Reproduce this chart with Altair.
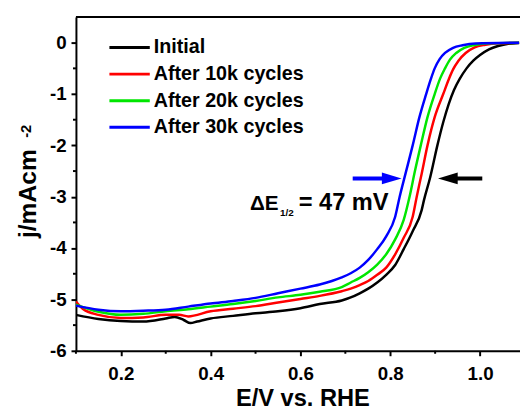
import altair as alt
import pandas as pd

FONT = "Liberation Sans"

series_names = ["Initial", "After 10k cycles", "After 20k cycles", "After 30k cycles"]
series_colors = ["#000000", "#ff0000", "#00e600", "#0000ff"]

x_initial = [0.10, 0.15, 0.20, 0.25, 0.30, 0.32, 0.34, 0.355, 0.37, 0.40, 0.45, 0.50, 0.55, 0.60, 0.643,
             0.692, 0.712, 0.732, 0.751, 0.771, 0.791, 0.811, 0.830, 0.850, 0.870, 0.875, 0.889, 0.905,
             0.918, 0.930, 0.942, 0.955, 0.97, 0.985, 1.0, 1.02, 1.04, 1.06, 1.087]
y_initial = [-5.30, -5.38, -5.42, -5.43, -5.37, -5.34, -5.40, -5.46, -5.43, -5.37, -5.32, -5.27, -5.23, -5.17, -5.09,
             -5.02, -4.96, -4.88, -4.79, -4.67, -4.52, -4.33, -4.02, -3.67, -3.26, -3.07, -2.62, -2.0,
             -1.55, -1.2, -0.92, -0.7, -0.5, -0.35, -0.24, -0.13, -0.065, -0.025, -0.005]

x_10k = [0.10, 0.115, 0.15, 0.20, 0.25, 0.30, 0.33, 0.35, 0.40, 0.45, 0.50, 0.55, 0.60, 0.643, 0.692,
         0.712, 0.732, 0.751, 0.771, 0.791, 0.811, 0.830, 0.850, 0.859, 0.870, 0.883, 0.899, 0.918,
         0.930, 0.940, 0.952, 0.968, 0.988, 1.012, 1.04, 1.087]
y_10k = [-5.04, -5.18, -5.30, -5.36, -5.35, -5.30, -5.30, -5.33, -5.23, -5.18, -5.13, -5.06, -4.99, -4.93, -4.84,
         -4.79, -4.72, -4.64, -4.52, -4.38, -4.12, -3.80, -3.39, -3.0, -2.55, -2.0, -1.45, -1.0,
         -0.72, -0.52, -0.35, -0.2, -0.09, -0.04, -0.012, -0.003]

x_20k = [0.10, 0.15, 0.20, 0.25, 0.30, 0.35, 0.40, 0.45, 0.50, 0.55, 0.60, 0.643, 0.692, 0.712, 0.732,
         0.751, 0.771, 0.791, 0.811, 0.830, 0.843, 0.855, 0.868, 0.883, 0.899, 0.911, 0.922, 0.933,
         0.947, 0.965, 0.988, 1.02, 1.087]
y_20k = [-5.10, -5.24, -5.30, -5.28, -5.23, -5.19, -5.14, -5.09, -5.03, -4.96, -4.91, -4.85, -4.76, -4.67, -4.58,
         -4.47, -4.32, -4.12, -3.83, -3.45, -3.0, -2.5, -2.0, -1.45, -1.0, -0.7, -0.5, -0.33,
         -0.2, -0.1, -0.045, -0.012, -0.002]

x_30k = [0.10, 0.15, 0.20, 0.25, 0.30, 0.35, 0.40, 0.45, 0.50, 0.55, 0.60, 0.643, 0.692, 0.712, 0.732,
         0.751, 0.771, 0.791, 0.811, 0.821, 0.834, 0.850, 0.865, 0.880, 0.890, 0.899, 0.910, 0.922,
         0.94, 0.961, 0.99, 1.087]
y_30k = [-5.12, -5.20, -5.23, -5.22, -5.20, -5.14, -5.08, -5.03, -4.97, -4.88, -4.79, -4.71, -4.57, -4.49, -4.38,
         -4.23, -4.02, -3.77, -3.39, -3.0, -2.55, -2.0, -1.45, -1.0, -0.72, -0.5, -0.32, -0.2,
         -0.1, -0.05, -0.015, 0.0]

x_major = [0.2, 0.4, 0.6, 0.8, 1.0]
x_minor = [0.1, 0.3, 0.5, 0.7, 0.9]
y_major = [-6, -5, -4, -3, -2, -1, 0]
y_minor = [-5.5, -4.5, -3.5, -2.5, -1.5, -0.5]

x_title = "E/V vs. RHE"
y_title = "j/mAcm"
y_title_sup = "-2"
delta_parts = ["ΔE", "1/2", "= 47 mV"]

W, H = 451, 339

frames = []
for name, xs, ys in zip(series_names, [x_initial, x_10k, x_20k, x_30k], [y_initial, y_10k, y_20k, y_30k]):
    frames.append(pd.DataFrame({"E": xs, "j": ys, "series": name}))
df = pd.concat(frames, ignore_index=True)

x_scale = alt.Scale(domain=[0.1, 1.089], nice=False, zero=False)
y_scale = alt.Scale(domain=[-6, 0.5], nice=False, zero=False)

axis_common = dict(
    domainColor="black", domainWidth=2, tickColor="black", tickWidth=2, tickSize=5,
    labelFont=FONT, labelFontSize=19, labelFontWeight="bold", labelColor="black",
    grid=False, labelOverlap=False,
)
x_axis = alt.Axis(values=x_major, labelExpr="format(datum.value, '.1f')", labelPadding=9,
                  title=x_title, titleFont=FONT, titleFontSize=24, titleFontWeight="bold",
                  titleColor="black", titleX=230, titleY=56, titleBaseline="alphabetic",
                  titleAlign="center", **axis_common)
y_axis = alt.Axis(values=y_major, labelExpr="'' + datum.value", labelPadding=5, title="",
                  **axis_common)


def X(field):
    return alt.X(field, scale=x_scale, axis=x_axis)


def Y(field):
    return alt.Y(field, scale=y_scale, axis=y_axis)


lines = alt.Chart(df).mark_line(strokeWidth=2.5, interpolate="monotone", clip=True).encode(
    x=X("E:Q"),
    y=Y("j:Q"),
    color=alt.Color("series:N", scale=alt.Scale(domain=series_names, range=series_colors), legend=None),
)

minor_x = alt.Chart(pd.DataFrame({"E": x_minor})).mark_rule(color="black", strokeWidth=2).encode(
    x=X("E:Q"), y=alt.value(H), y2=alt.value(H + 3))
minor_y = alt.Chart(pd.DataFrame({"j": y_minor})).mark_rule(color="black", strokeWidth=2).encode(
    y=Y("j:Q"), x=alt.value(-3), x2=alt.value(0))

top_border = alt.Chart(pd.DataFrame({"a": [0]})).mark_rule(color="black", strokeWidth=2).encode(
    x=alt.value(0), x2=alt.value(W), y=alt.value(0))

# manual legend (pixel layout inside the plot area)
legend_layers = []
for i, (name, col) in enumerate(zip(series_names, series_colors)):
    ly = 31 + 27 * i
    ldf = pd.DataFrame({"t": [name]})
    legend_layers.append(alt.Chart(ldf).mark_rule(strokeWidth=3, color=col).encode(
        x=alt.value(34), x2=alt.value(75), y=alt.value(ly)))
    legend_layers.append(alt.Chart(ldf).mark_text(
        font=FONT, fontWeight="bold", fontSize=20, color="black", align="left",
        baseline="middle").encode(x=alt.value(79), y=alt.value(ly), text="t:N"))


def txt(xv, yv, t, size):
    return alt.Chart(pd.DataFrame({"E": [xv], "j": [yv], "t": [t]})).mark_text(
        font=FONT, fontWeight="bold", fontSize=size, color="black", align="left",
        baseline="alphabetic").encode(x=X("E:Q"), y=Y("j:Q"), text="t:N")


ann_delta = txt(0.4875, -3.25, delta_parts[0], 21)
ann_sub = txt(0.5545, -3.378, delta_parts[1], 10)
ann_rest = txt(0.5960, -3.25, delta_parts[2], 24)

arrow_y = -2.643
shafts = alt.Chart(pd.DataFrame({"E": [0.7164, 0.9283], "E2": [0.8033, 1.005], "j": [arrow_y, arrow_y],
                                 "c": ["#0000ff", "#000000"]})).mark_rule(strokeWidth=4).encode(
    x=X("E:Q"), x2="E2:Q", y=Y("j:Q"), color=alt.Color("c:N", scale=None))
head_r = alt.Chart(pd.DataFrame({"E": [0.8033], "j": [arrow_y]})).mark_point(
    shape="M-1,-0.6L1,0L-1,0.6Z", filled=True, size=400, opacity=1, color="#0000ff").encode(
    x=X("E:Q"), y=Y("j:Q"))
head_l = alt.Chart(pd.DataFrame({"E": [0.9283], "j": [arrow_y]})).mark_point(
    shape="M1,-0.6L-1,0L1,0.6Z", filled=True, size=400, opacity=1, color="#000000").encode(
    x=X("E:Q"), y=Y("j:Q"))

ytitle = alt.Chart(pd.DataFrame({"t": [y_title]})).mark_text(
    font=FONT, fontWeight="bold", fontSize=25, color="black", angle=270, align="center",
    baseline="alphabetic").encode(x=alt.value(-40.6), y=alt.value(179.4), text="t:N")
ytitle_sup = alt.Chart(pd.DataFrame({"t": [y_title_sup]})).mark_text(
    font=FONT, fontWeight="bold", fontSize=15, color="black", angle=270, align="center",
    baseline="alphabetic").encode(x=alt.value(-45.6), y=alt.value(116), text="t:N")

chart = alt.layer(
    lines, minor_x, minor_y, top_border, ann_delta, ann_sub, ann_rest, shafts, head_r, head_l,
    ytitle, ytitle_sup, *legend_layers
).properties(
    width=W, height=H,
    padding={"left": 69, "top": 6, "right": 0, "bottom": 59},
    autosize=alt.AutoSizeParams(type="none"),
    background="white",
).configure_view(stroke="transparent")

chart.save("out.html", embed_options={"renderer": "svg", "actions": False})
